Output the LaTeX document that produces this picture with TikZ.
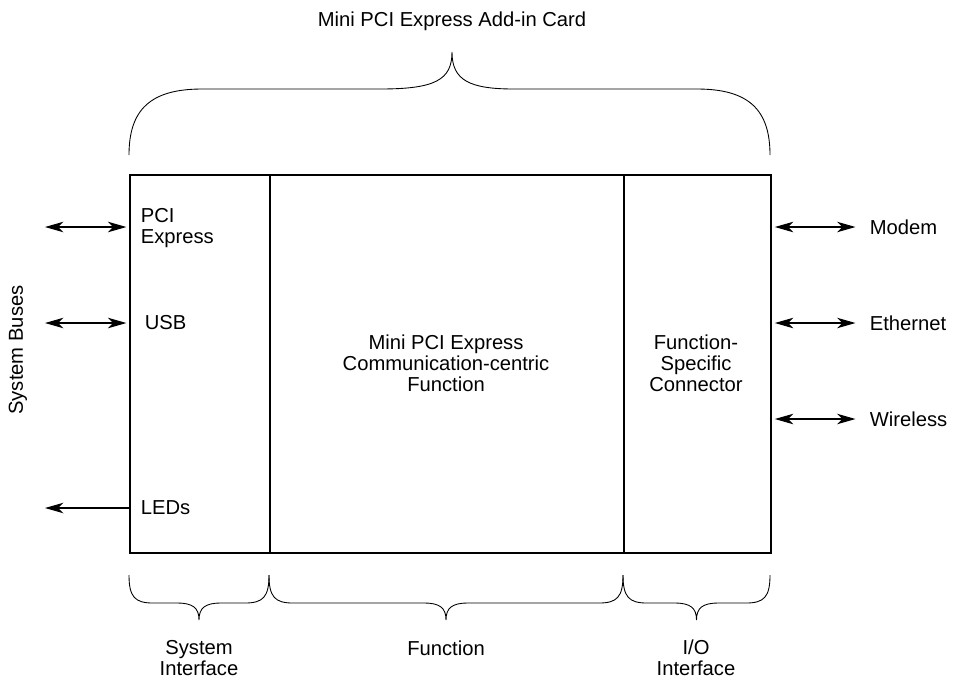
\documentclass[tikz,border=0pt]{standalone}
\usepackage{fontspec}
\setmainfont{Liberation Sans}
\usetikzlibrary{positioning, arrows.meta, calc}

\begin{document}
\begin{tikzpicture}[
  x=0.02cm, y=-0.02cm,
  >={Stealth[length=10.5pt, width=6pt, inset=3pt]},
  every node/.style={font=\fontsize{11.5}{12}\selectfont, align=center, inner sep=2pt},
  block/.style={draw, line width=1.3pt, anchor=north west, inner sep=0pt, minimum height=7.56cm},
  bus/.style={<->, line width=0.6pt},
  bracepen/.style={line width=0.5pt}
]
\useasboundingbox (0,0) rectangle (959,681);

% Card blocks
\node[block, minimum width=2.8cm] (sysif) at (129,174) {};
\node[block, minimum width=7.08cm] (func) at (269,174) {};
\node[block, minimum width=2.94cm] (iocon) at (623,174) {};

% Block labels
\node[anchor=west, align=left] (pcie) at (137,228) {PCI\\Express};
\node[anchor=west] (usb) at (141,323) {USB};
\node[anchor=west] (leds) at (137,508) {LEDs};
\node (funclbl) at (446,363) {Mini PCI Express\\Communication-centric\\Function};
\node (conlbl) at (696,363) {Function-\\Specific\\Connector};

% System buses (left)
\coordinate (pcieend) at (45,227);
\coordinate (usbend) at (45,323);
\coordinate (ledsend) at (45,508);
\draw[bus, shorten >=1.5pt] (pcieend) -- (sysif.west |- pcieend);
\draw[bus, shorten >=1.5pt] (usbend) -- (sysif.west |- usbend);
\draw[->, line width=0.6pt] (sysif.west |- ledsend) -- (ledsend);
\node[rotate=90] (buses) at (18,350) {System Buses};

% I/O (right)
\node[anchor=west] (modem) at (866,227) {Modem};
\node[anchor=west] (ether) at (866,323) {Ethernet};
\node[anchor=west] (wless) at (866,419) {Wireless};
\foreach \n in {modem, ether, wless}
  \draw[bus, shorten <=1.5pt, shorten >=6pt] (iocon.east |- \n) -- (\n.west);

% Top brace
\draw[bracepen] (129,155) .. controls (129,110) and (150,89) .. (202,89) -- (380,89)
  .. controls (435,89) and (452,80) .. (452,52)
  .. controls (452,80) and (469,89) .. (514,89) -- (697,89)
  .. controls (749,89) and (770,110) .. (770,155);
\node (card) at (452,21) {Mini PCI Express Add-in Card};

% Bottom braces
\foreach \xa/\xb in {129/269, 269/623, 623/770} {
  \pgfmathsetmacro\xm{(\xa+\xb)/2}
  \draw[bracepen] (\xa,575) .. controls (\xa,597) and (\xa+6,603) .. (\xa+24,603)
    -- (\xm-22,603) .. controls (\xm-6,603) and (\xm,608) .. (\xm,620)
    .. controls (\xm,608) and (\xm+6,603) .. (\xm+22,603)
    -- (\xb-24,603) .. controls (\xb-6,603) and (\xb,597) .. (\xb,575);
}
\node (syslbl) at (199,658) {System\\Interface};
\node (funlbl) at (446,648) {Function};
\node (iolbl) at (696,658) {I/O\\Interface};
\end{tikzpicture}
\end{document}
